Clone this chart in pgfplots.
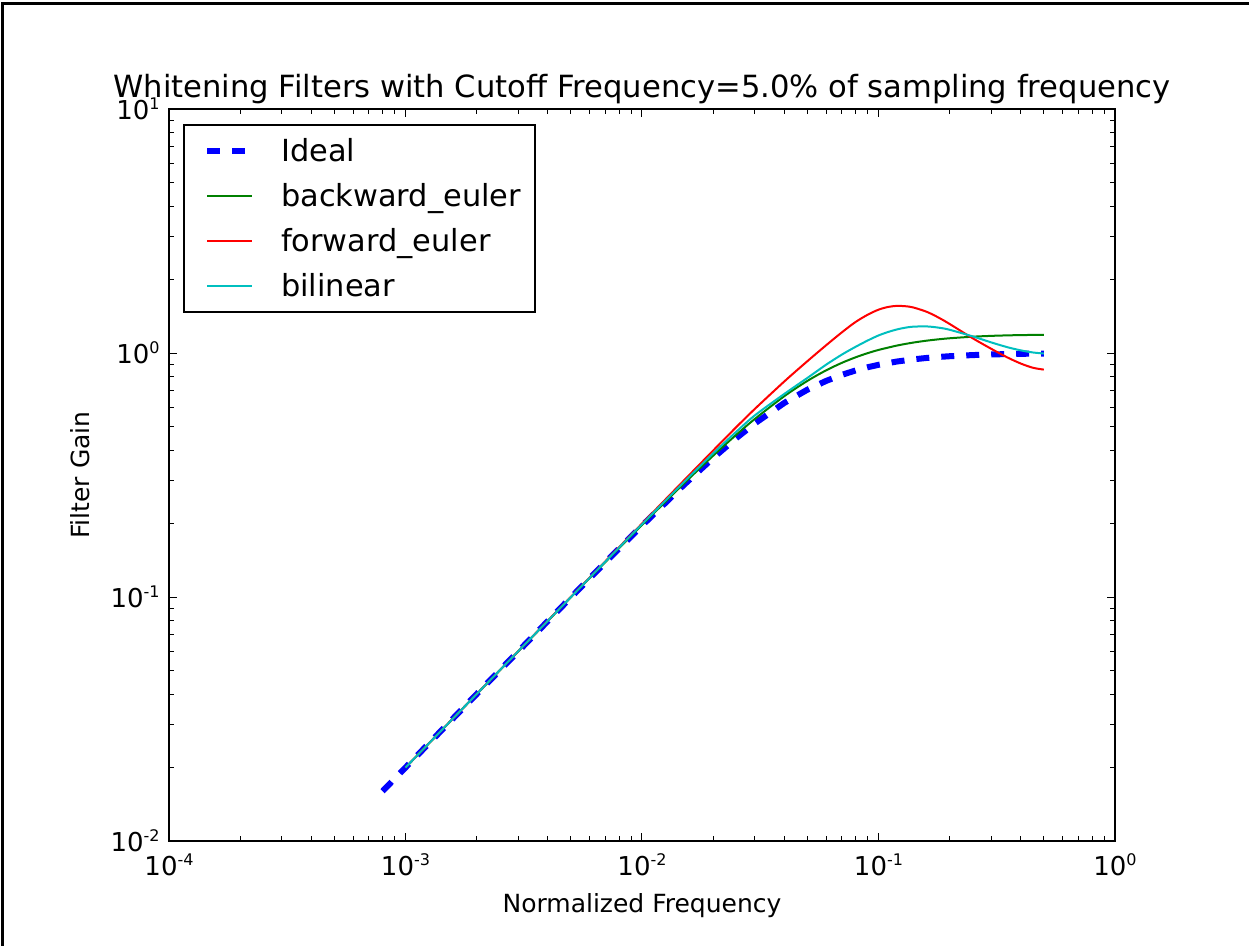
\documentclass[border=0pt]{standalone}
\usepackage{pgfplots}
\pgfplotsset{compat=1.18}
\usepackage{pgfplotstable}
\usepackage{fontspec}
\setmainfont{DejaVu Sans}

% 10^n tick label in the text font
\newcommand{\dec}[1]{10\raisebox{0.4em}{\fontsize{8}{8}\selectfont #1}}

\pgfplotstableread{
f g
0.0008 0.0160
0.001 0.0200
0.002 0.0400
0.003 0.0599
0.005 0.0995
0.007 0.1386
0.01 0.1961
0.015 0.2873
0.02 0.3714
0.025 0.4472
0.03 0.5145
0.04 0.6247
0.05 0.7071
0.06 0.7682
0.07 0.8137
0.08 0.8480
0.09 0.8742
0.1 0.8944
0.12 0.9231
0.14 0.9417
0.16 0.9545
0.18 0.9635
0.2 0.9701
0.25 0.9806
0.3 0.9864
0.35 0.9899
0.4 0.9923
0.45 0.9939
0.5 0.9950
}\ideal

\pgfplotstableread{
f g
0.001 0.0200
0.002 0.0400
0.003 0.0599
0.005 0.0997
0.007 0.1391
0.01 0.1973
0.015 0.2910
0.02 0.3795
0.025 0.4616
0.03 0.5367
0.04 0.6657
0.05 0.7683
0.06 0.8486
0.07 0.9112
0.08 0.9601
0.09 0.9986
0.1 1.0291
0.12 1.0734
0.14 1.1030
0.16 1.1236
0.18 1.1383
0.2 1.1492
0.25 1.1663
0.3 1.1756
0.35 1.1810
0.4 1.1842
0.45 1.1858
0.5 1.1864
}\backeuler

\pgfplotstableread{
f g
0.001 0.0200
0.002 0.0400
0.003 0.0600
0.005 0.1000
0.007 0.1400
0.01 0.1999
0.015 0.2995
0.02 0.3985
0.025 0.4960
0.03 0.5900
0.04 0.7650
0.05 0.9250
0.06 1.0750
0.07 1.2150
0.08 1.3400
0.09 1.4350
0.1 1.5050
0.11 1.5450
0.12 1.5600
0.13 1.5550
0.14 1.5380
0.16 1.4750
0.18 1.3950
0.2 1.3150
0.25 1.1500
0.3 1.0400
0.35 0.9600
0.4 0.9050
0.45 0.8700
0.5 0.8550
}\foreuler

\pgfplotstableread{
f g
0.001 0.0200
0.002 0.0400
0.003 0.0600
0.005 0.0998
0.007 0.1396
0.01 0.1987
0.015 0.2950
0.02 0.3880
0.025 0.4750
0.03 0.5550
0.04 0.6800
0.05 0.7900
0.06 0.8950
0.07 0.9850
0.08 1.0600
0.09 1.1250
0.1 1.1800
0.11 1.2200
0.12 1.2500
0.13 1.2700
0.14 1.2820
0.16 1.2850
0.18 1.2700
0.2 1.2450
0.25 1.1700
0.3 1.1050
0.35 1.0570
0.4 1.0250
0.45 1.0050
0.5 0.9950
}\bilin

\begin{document}
\begin{tikzpicture}
\useasboundingbox (-84.5pt,-52.5pt) rectangle (540pt,420.5pt);
\draw[line width=1.6pt] (-83.2pt,-60pt) -- (-83.2pt,418.7pt) -- (560pt,418.7pt);
\begin{axis}[
  at={(0pt,0pt)}, anchor=south west,
  scale only axis, width=473pt, height=366pt,
  xmode=log, ymode=log,
  xmin=1e-4, xmax=1, ymin=1e-2, ymax=10,
  axis line style={line width=1pt},
  tick pos=both, tick align=inside,
  major tick length=4pt, minor tick length=2.5pt,
  every tick/.style={black, line width=0.5pt},
  xtick={1e-4,1e-3,1e-2,1e-1,1},
  xticklabels={\dec{-4},\dec{-3},\dec{-2},\dec{-1},\dec{0}},
  ytick={1e-2,1e-1,1,10},
  yticklabels={\dec{-2},\dec{-1},\dec{0},\dec{1}},
  minor xtick={2e-4,3e-4,4e-4,5e-4,6e-4,7e-4,8e-4,9e-4,2e-3,3e-3,4e-3,5e-3,6e-3,7e-3,8e-3,9e-3,0.02,0.03,0.04,0.05,0.06,0.07,0.08,0.09,0.2,0.3,0.4,0.5,0.6,0.7,0.8,0.9},
  minor ytick={0.02,0.03,0.04,0.05,0.06,0.07,0.08,0.09,0.2,0.3,0.4,0.5,0.6,0.7,0.8,0.9,2,3,4,5,6,7,8,9},
  tick label style={font=\fontsize{13}{13}\selectfont, inner sep=0pt},
  xticklabel shift=6pt, yticklabel shift=4.5pt,
  title={Whitening Filters with Cutoff Frequency=5.0\% of sampling frequency},
  title style={at={(axis description cs:0.5,1.0)}, anchor=base, font=\fontsize{15.3}{15.3}\selectfont, inner sep=0pt},
  xlabel={Normalized Frequency},
  ylabel={Filter Gain},
  xlabel style={at={(axis description cs:0.5,-0.097)}, anchor=base, font=\fontsize{12.5}{12.5}\selectfont, inner sep=0pt},
  ylabel style={at={(axis description cs:-0.0835,0.5)}, anchor=base, font=\fontsize{12.5}{12.5}\selectfont, inner sep=0pt},
  legend cell align=left,
  legend image code/.code={\path (0pt,0pt); \draw[#1] (3pt,0pt) -- (25.5pt,0pt);},
  legend style={at={(axis description cs:0.0150,0.9795)}, anchor=north west,
    draw=black, line width=1pt, fill=white,
    font=\fontsize{15.2}{15.2}\selectfont,
    inner xsep=7pt, inner ysep=5.5pt,
    row sep=7.5pt, column sep=13pt,
    nodes={inner sep=0pt, text height=12.9pt, text depth=2.1pt}},
]
\addplot[blue, line width=3pt, dash pattern=on 6.5pt off 6pt] table[x=f, y=g] {\ideal};
\addlegendentry{Ideal}
\addplot[smooth, color={rgb,1:red,0;green,0.5;blue,0}, line width=1pt] table[x=f, y=g] {\backeuler};
\addlegendentry{backward\_euler}
\addplot[smooth, red, line width=1pt] table[x=f, y=g] {\foreuler};
\addlegendentry{forward\_euler}
\addplot[smooth, color={rgb,1:red,0;green,0.75;blue,0.75}, line width=1pt] table[x=f, y=g] {\bilin};
\addlegendentry{bilinear}
\end{axis}
\end{tikzpicture}
\end{document}
